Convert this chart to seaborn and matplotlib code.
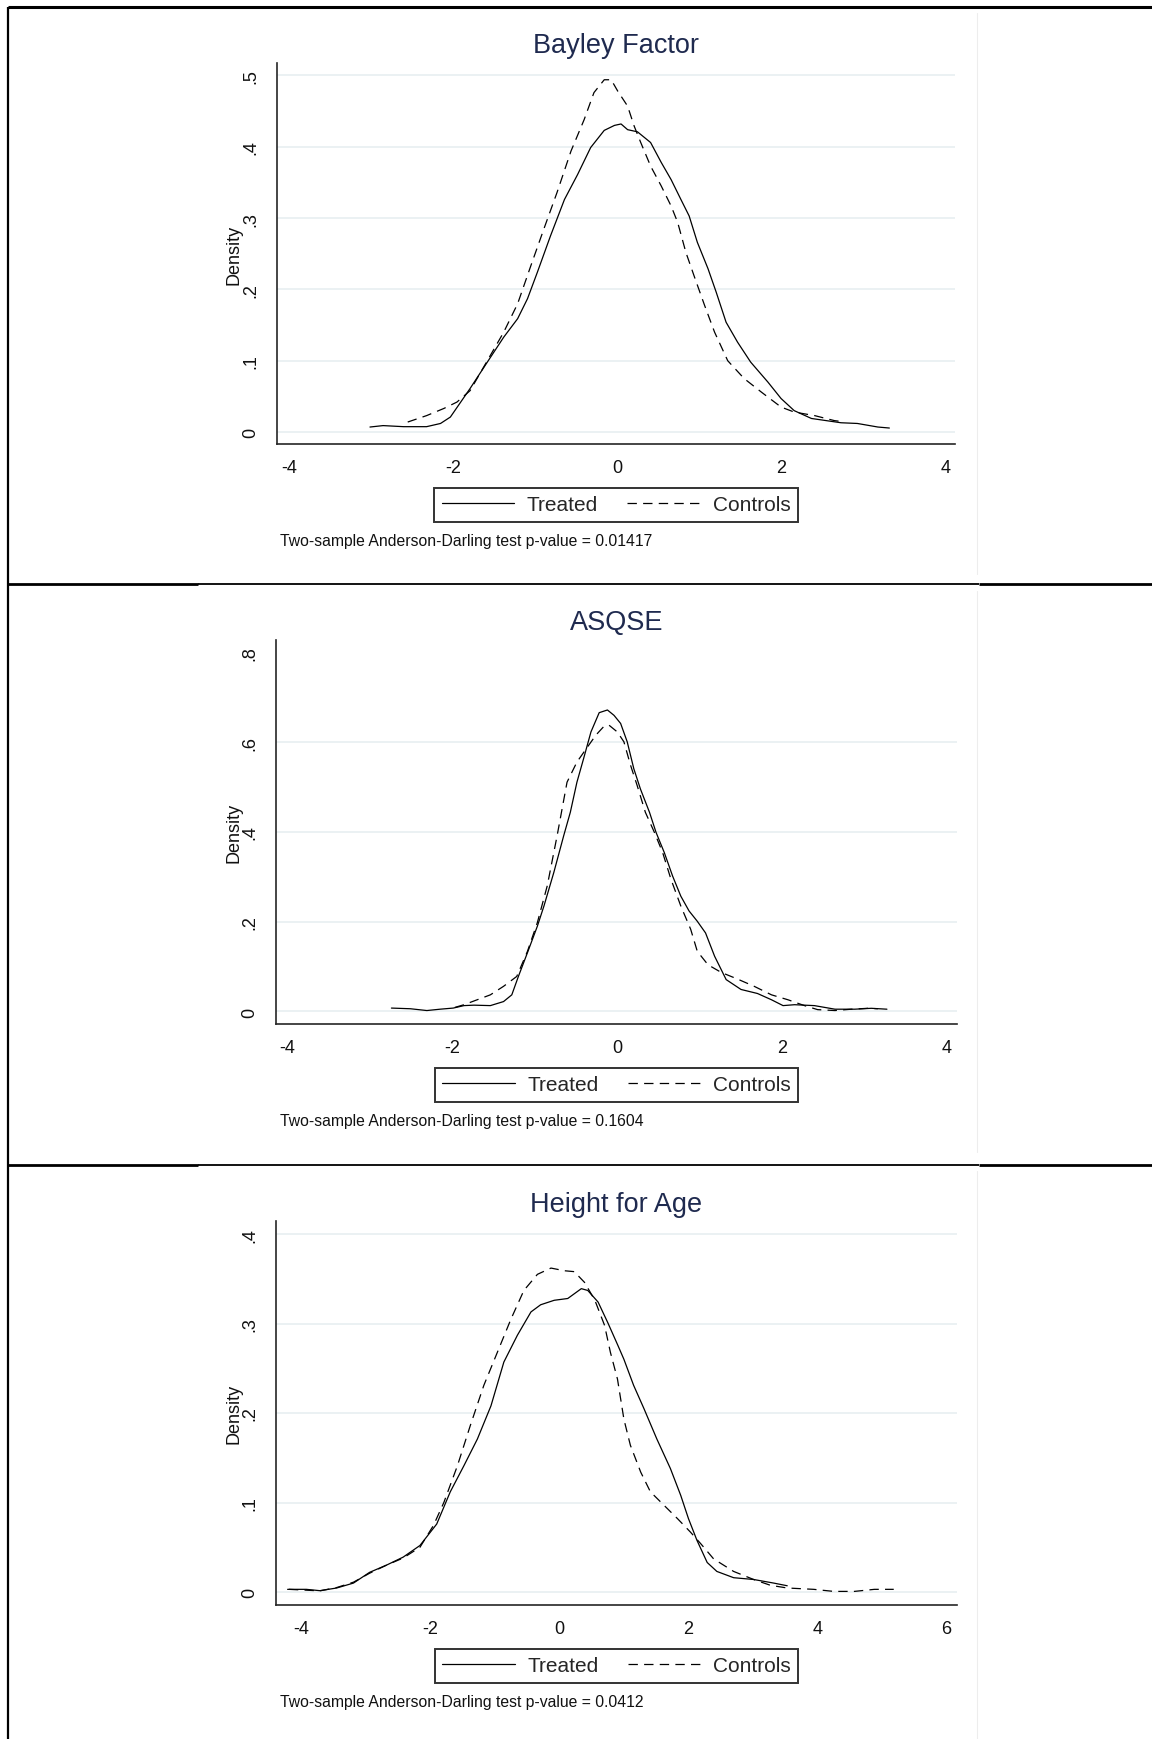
"""
Kernel density of three outcome scores, treated vs. controls,
three Stata-style panels stacked like a pasted table.
"""
import matplotlib
matplotlib.use("Agg")
import matplotlib.pyplot as plt
from matplotlib.lines import Line2D
import pandas as pd
import seaborn as sns

# ---------------------------------------------------------------------------
# Data (x, density)
# ---------------------------------------------------------------------------
BAYLEY_TREATED_X = [-3.01, -2.85, -2.6, -2.32, -2.15, -2.03, -1.79, -1.58, -1.38, -1.21,
                    -1.09, -0.97, -0.81, -0.64, -0.48, -0.32, -0.155, -0.03, 0.05, 0.13,
                    0.25, 0.41, 0.54, 0.66, 0.78, 0.88, 0.98, 1.11, 1.21, 1.33,
                    1.47, 1.63, 1.84, 2.0, 2.16, 2.37, 2.73, 2.93, 3.18, 3.32]
BAYLEY_TREATED_Y = [0.007, 0.009, 0.0075, 0.0075, 0.012, 0.021, 0.061, 0.098, 0.133, 0.159,
                    0.187, 0.224, 0.275, 0.326, 0.361, 0.399, 0.423, 0.430, 0.432, 0.424,
                    0.421, 0.406, 0.378, 0.354, 0.326, 0.303, 0.266, 0.229, 0.196, 0.154,
                    0.126, 0.098, 0.070, 0.047, 0.030, 0.019, 0.013, 0.012, 0.007, 0.0056]
BAYLEY_CONTROLS_X = [-2.55, -2.32, -2.11, -1.95, -1.79, -1.58, -1.38, -1.21, -1.05, -0.89,
                     -0.73, -0.56, -0.40, -0.28, -0.155, -0.07, 0.01, 0.13, 0.21, 0.29,
                     0.41, 0.54, 0.66, 0.74, 0.84, 0.94, 1.07, 1.19, 1.35, 1.55,
                     1.76, 2.0, 2.16, 2.41, 2.65, 2.72]
BAYLEY_CONTROLS_Y = [0.014, 0.023, 0.033, 0.042, 0.058, 0.100, 0.140, 0.180, 0.233, 0.285,
                     0.336, 0.394, 0.438, 0.476, 0.494, 0.494, 0.478, 0.457, 0.429, 0.406,
                     0.373, 0.345, 0.317, 0.294, 0.252, 0.219, 0.177, 0.140, 0.100, 0.075,
                     0.056, 0.035, 0.028, 0.023, 0.016, 0.015]

ASQSE_TREATED_X = [-2.74, -2.51, -2.31, -2.15, -1.99, -1.86, -1.74, -1.54, -1.38, -1.28,
                   -1.20, -1.09, -0.97, -0.89, -0.77, -0.65, -0.57, -0.49, -0.41, -0.32,
                   -0.22, -0.12, -0.04, 0.04, 0.12, 0.20, 0.28, 0.39, 0.47, 0.57,
                   0.67, 0.77, 0.87, 0.97, 1.07, 1.18, 1.32, 1.50, 1.70, 1.87,
                   2.01, 2.15, 2.39, 2.64, 2.88, 3.08, 3.27]
ASQSE_TREATED_Y = [0.0075, 0.006, 0.002, 0.005, 0.0075, 0.013, 0.014, 0.013, 0.022, 0.037,
                   0.078, 0.131, 0.190, 0.235, 0.310, 0.392, 0.444, 0.511, 0.563, 0.623,
                   0.666, 0.672, 0.660, 0.642, 0.601, 0.541, 0.496, 0.444, 0.399, 0.354,
                   0.302, 0.257, 0.224, 0.201, 0.175, 0.123, 0.071, 0.049, 0.040, 0.026,
                   0.013, 0.015, 0.013, 0.005, 0.005, 0.007, 0.005]
ASQSE_CONTROLS_X = [-1.97, -1.86, -1.70, -1.54, -1.38, -1.22, -1.09, -0.97, -0.85, -0.73,
                    -0.61, -0.49, -0.36, -0.26, -0.16, -0.10, 0.0, 0.08, 0.16, 0.24,
                    0.34, 0.45, 0.55, 0.65, 0.77, 0.89, 0.97, 1.10, 1.26, 1.46,
                    1.66, 1.87, 2.07, 2.27, 2.43, 2.64, 2.84, 3.04, 3.16]
ASQSE_CONTROLS_Y = [0.009, 0.015, 0.026, 0.037, 0.056, 0.078, 0.134, 0.198, 0.280, 0.392,
                    0.511, 0.556, 0.590, 0.616, 0.636, 0.638, 0.623, 0.601, 0.549, 0.504,
                    0.444, 0.399, 0.354, 0.295, 0.235, 0.183, 0.134, 0.104, 0.087, 0.072,
                    0.056, 0.037, 0.026, 0.013, 0.004, 0.002, 0.005, 0.007, 0.006]

HEIGHT_TREATED_X = [-4.21, -3.92, -3.71, -3.45, -3.19, -2.94, -2.68, -2.42, -2.16, -1.90,
                    -1.69, -1.48, -1.27, -1.06, -0.86, -0.65, -0.44, -0.29, -0.08, 0.13,
                    0.34, 0.44, 0.60, 0.75, 0.91, 1.0, 1.15, 1.31, 1.51, 1.72,
                    1.88, 2.0, 2.13, 2.29, 2.44, 2.70, 3.01, 3.32, 3.53]
HEIGHT_TREATED_Y = [0.003, 0.003, 0.0015, 0.0045, 0.010, 0.022, 0.030, 0.039, 0.052, 0.076,
                    0.112, 0.141, 0.171, 0.208, 0.257, 0.287, 0.313, 0.321, 0.326, 0.328,
                    0.339, 0.337, 0.324, 0.301, 0.275, 0.260, 0.231, 0.205, 0.171, 0.138,
                    0.108, 0.082, 0.058, 0.033, 0.023, 0.016, 0.014, 0.010, 0.007]
HEIGHT_CONTROLS_X = [-4.19, -3.71, -3.45, -3.19, -2.94, -2.68, -2.42, -2.16, -1.95, -1.79,
                     -1.58, -1.38, -1.17, -0.96, -0.75, -0.55, -0.34, -0.13, 0.08, 0.23,
                     0.39, 0.55, 0.70, 0.79, 0.90, 1.0, 1.10, 1.26, 1.41, 1.62,
                     1.83, 2.03, 2.19, 2.39, 2.70, 3.01, 3.27, 3.53, 3.94, 4.25,
                     4.57, 4.88, 5.18]
HEIGHT_CONTROLS_Y = [0.003, 0.0013, 0.005, 0.011, 0.021, 0.030, 0.038, 0.050, 0.0745, 0.100,
                     0.141, 0.186, 0.231, 0.268, 0.305, 0.337, 0.355, 0.362, 0.359, 0.358,
                     0.346, 0.326, 0.298, 0.268, 0.238, 0.193, 0.164, 0.134, 0.112, 0.097,
                     0.082, 0.067, 0.054, 0.037, 0.023, 0.014, 0.0075, 0.0045, 0.003, 0.0007,
                     0.0007, 0.003, 0.003]

TITLES = ["Bayley Factor", "ASQSE", "Height for Age"]
P_VALUES = ["0.01417", "0.1604", "0.0412"]
X_TICKS = [[-4, -2, 0, 2, 4], [-4, -2, 0, 2, 4], [-4, -2, 0, 2, 4, 6]]
Y_TICKS = [[0, 0.1, 0.2, 0.3, 0.4, 0.5], [0, 0.2, 0.4, 0.6, 0.8], [0, 0.1, 0.2, 0.3, 0.4]]
GROUPS = ["Treated", "Controls"]

SERIES = [
    (BAYLEY_TREATED_X, BAYLEY_TREATED_Y, BAYLEY_CONTROLS_X, BAYLEY_CONTROLS_Y),
    (ASQSE_TREATED_X, ASQSE_TREATED_Y, ASQSE_CONTROLS_X, ASQSE_CONTROLS_Y),
    (HEIGHT_TREATED_X, HEIGHT_TREATED_Y, HEIGHT_CONTROLS_X, HEIGHT_CONTROLS_Y),
]

# ---------------------------------------------------------------------------
# Layout (pixels on a 1152x1740 canvas)
# ---------------------------------------------------------------------------
W, H = 1152, 1740
# left, right, top, bottom of each plot region, and data limits
PANELS = [
    dict(box=(277, 955, 64, 445), xlim=(-4.143, 4.12), ylim=(-0.0168, 0.5175),
         title_y=46, legend_top=489, note_y=542, grid=[0, 0.1, 0.2, 0.3, 0.4, 0.5]),
    dict(box=(276, 957, 641, 1025), xlim=(-4.14, 4.12), ylim=(-0.028, 0.828),
         title_y=623, legend_top=1069, note_y=1122, grid=[0, 0.2, 0.4, 0.6]),
    dict(box=(276, 957, 1222, 1606), xlim=(-4.39, 6.16), ylim=(-0.0145, 0.4146),
         title_y=1205, legend_top=1650, note_y=1703, grid=[0, 0.1, 0.2, 0.3, 0.4]),
]

TITLE_COLOR = "#1f2a4f"
GRID_COLOR = "#e5eef0"
AXIS_COLOR = "#262626"
LW = 0.9
DASH = (7.5, 5.0)

sns.set_style("white")
plt.rcParams["font.family"] = ["Liberation Sans", "DejaVu Sans"]
plt.rcParams["axes.unicode_minus"] = False


def fx(px):
    return px / W


def fy(py):
    return 1 - py / H


def ytick_fmt(v):
    if v == 0:
        return "0"
    return f"{v:g}".lstrip("0")


fig = plt.figure(figsize=(W / 100, H / 100), dpi=100)

for i, spec in enumerate(PANELS):
    left, right, top, bottom = spec["box"]
    ax = fig.add_axes([fx(left), fy(bottom), (right - left) / W, (bottom - top) / H])

    tx, ty, cx, cy = SERIES[i]
    df = pd.concat([
        pd.DataFrame({"x": tx, "density": ty, "group": GROUPS[0]}),
        pd.DataFrame({"x": cx, "density": cy, "group": GROUPS[1]}),
    ], ignore_index=True)

    for g in spec["grid"]:
        ax.axhline(g, color=GRID_COLOR, lw=1.1, zorder=0)

    sns.lineplot(
        data=df, x="x", y="density", style="group", style_order=GROUPS,
        dashes={"Treated": "", "Controls": DASH}, color="black", lw=LW,
        sort=False, estimator=None, legend=False, ax=ax,
    )

    ax.set_xlim(*spec["xlim"])
    ax.set_ylim(*spec["ylim"])
    ax.set_xticks(X_TICKS[i])
    ax.set_xticklabels([str(t) for t in X_TICKS[i]])
    ax.set_yticks(Y_TICKS[i])
    ax.set_yticklabels([ytick_fmt(t) for t in Y_TICKS[i]])
    ax.set_xlabel("")
    ax.set_ylabel("")

    for side in ["top", "right"]:
        ax.spines[side].set_visible(False)
    for side in ["left", "bottom"]:
        ax.spines[side].set_color(AXIS_COLOR)
        ax.spines[side].set_linewidth(1.2)

    ax.tick_params(axis="both", direction="out", length=5, width=1.0,
                   color=AXIS_COLOR, labelsize=13, labelcolor="#111111")
    ax.tick_params(axis="x", pad=6)
    ax.tick_params(axis="y", pad=8)
    for lab in ax.get_yticklabels():
        lab.set_rotation(90)
        lab.set_va("center")
        lab.set_ha("right")

    cx_mid = (left + right) / 2
    fig.text(fx(cx_mid), fy(spec["title_y"]), TITLES[i], ha="center", va="center",
             fontsize=19.5, color=TITLE_COLOR)
    fig.text(fx(234), fy((top + bottom) / 2), "Density", rotation=90,
             ha="center", va="center", fontsize=13, color="#111111")

    handles = [
        Line2D([], [], color="black", lw=LW),
        Line2D([], [], color="black", lw=LW, dashes=DASH),
    ]
    leg = ax.legend(
        handles, GROUPS, loc="upper center", ncol=2,
        bbox_to_anchor=(fx(cx_mid), fy(spec["legend_top"])), bbox_transform=fig.transFigure,
        fontsize=15, frameon=True, fancybox=False, framealpha=1, edgecolor="#333333",
        handlelength=3.5, handletextpad=0.6, columnspacing=1.4, borderpad=0.35,
        borderaxespad=0,
    )
    leg.get_frame().set_linewidth(1.4)

    fig.text(fx(280), fy(spec["note_y"]),
             f"Two-sample Anderson-Darling test p-value = {P_VALUES[i]}",
             ha="left", va="center", fontsize=11.3, color="#111111")

# table-like frame around the pasted panels
frame = dict(color="black", solid_capstyle="butt")
fig.add_artist(Line2D([fx(8), 1], [fy(8), fy(8)], lw=2.2, **frame))
fig.add_artist(Line2D([fx(8), fx(8)], [fy(8), 0], lw=1.6, **frame))
for sep in [585, 1166]:
    fig.add_artist(Line2D([fx(8), fx(198)], [fy(sep), fy(sep)], lw=2.0, **frame))
    fig.add_artist(Line2D([fx(198), fx(979)], [fy(sep), fy(sep)], lw=1.3, **frame))
    fig.add_artist(Line2D([fx(979), 1], [fy(sep), fy(sep)], lw=2.0, **frame))
for y0, y1 in [(14, 575), (592, 1153), (1172, 1740)]:
    fig.add_artist(Line2D([fx(977), fx(977)], [fy(y0), fy(y1)], lw=0.8, color="#ededed"))

fig.savefig("out.png", dpi=100, facecolor="white")
